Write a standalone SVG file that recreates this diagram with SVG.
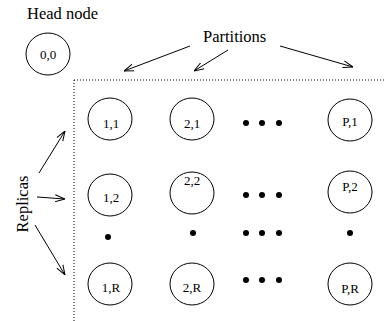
<svg xmlns="http://www.w3.org/2000/svg" width="385" height="321" viewBox="0 0 385 321">
<style>
.t{font-family:'Liberation Serif','DejaVu Serif',serif;fill:#000}
.lbl{font-size:16.5px}
.n{font-size:13px;text-anchor:middle}
.c{fill:none;stroke:#000;stroke-width:1}
.a{stroke:#000;stroke-width:1;fill:none;marker-end:url(#ah)}
.d{fill:#000}
</style>
<defs>
<marker id="ah" viewBox="0 0 10 10" refX="10" refY="5" markerWidth="10" markerHeight="10" markerUnits="userSpaceOnUse" orient="auto">
<polyline points="0,1.5 10,5 0,8.5" fill="none" stroke="#000" stroke-width="1"/>
</marker>
</defs>
<rect width="385" height="321" fill="#fff"/>
<g font-family="Liberation Serif, DejaVu Serif, serif">
<text class="t lbl" x="27" y="19">Head node</text>
<text class="t lbl" x="203" y="42">Partitions</text>
<text class="t lbl" transform="translate(28,204) rotate(-90)" text-anchor="middle">Replicas</text>
</g>
<g id="frame">
<path d="M74,80 H385 M74,80 V321" fill="none" stroke="#000" stroke-width="1" stroke-dasharray="1,2"/>
</g>
<g id="connectors">
<line class="a" x1="190" y1="46" x2="124" y2="71"/>
<line class="a" x1="228" y1="50" x2="194" y2="71"/>
<line class="a" x1="280" y1="46" x2="353" y2="67"/>
<line class="a" x1="39" y1="173" x2="65" y2="131"/>
<line class="a" x1="37" y1="197" x2="65" y2="199"/>
<line class="a" x1="35" y1="225" x2="65" y2="275"/>
</g>
<g font-family="Liberation Serif, DejaVu Serif, serif">
<g id="n00"><ellipse class="c" cx="48" cy="54" rx="22" ry="21"/><text class="t n" x="48" y="59">0,0</text></g>
<g id="n11"><ellipse class="c" cx="110" cy="119" rx="22" ry="21"/><text class="t n" x="111" y="128">1,1</text></g>
<g id="n21"><ellipse class="c" cx="192" cy="119" rx="22" ry="21"/><text class="t n" x="192" y="128">2,1</text></g>
<g id="nP1"><ellipse class="c" cx="350" cy="120" rx="22" ry="21"/><text class="t n" x="350" y="126">P,1</text></g>
<g id="n12"><ellipse class="c" cx="110" cy="195" rx="22" ry="21"/><text class="t n" x="111" y="202">1,2</text></g>
<g id="n22"><ellipse class="c" cx="192" cy="193" rx="22" ry="21"/><text class="t n" x="192" y="185">2,2</text></g>
<g id="nP2"><ellipse class="c" cx="350" cy="192" rx="22" ry="21"/><text class="t n" x="350" y="191">P,2</text></g>
<g id="n1R"><ellipse class="c" cx="110" cy="284" rx="22" ry="21"/><text class="t n" x="111" y="292">1,R</text></g>
<g id="n2R"><ellipse class="c" cx="192" cy="284" rx="22" ry="21"/><text class="t n" x="192" y="292">2,R</text></g>
<g id="nPR"><ellipse class="c" cx="350" cy="284" rx="22" ry="21"/><text class="t n" x="350" y="293">P,R</text></g>
</g>
<g id="dots">
<circle class="d" cx="246" cy="123" r="3"/><circle class="d" cx="262" cy="123" r="3"/><circle class="d" cx="279" cy="123" r="3"/>
<circle class="d" cx="246" cy="195" r="3"/><circle class="d" cx="262" cy="195" r="3"/><circle class="d" cx="279" cy="195" r="3"/>
<circle class="d" cx="246" cy="233" r="3"/><circle class="d" cx="262" cy="233" r="3"/><circle class="d" cx="279" cy="233" r="3"/>
<circle class="d" cx="246" cy="280" r="3"/><circle class="d" cx="262" cy="280" r="3"/><circle class="d" cx="279" cy="280" r="3"/>
<circle class="d" cx="108" cy="237" r="3"/>
<circle class="d" cx="193" cy="233" r="3"/>
<circle class="d" cx="350" cy="233" r="3"/>
</g>
</svg>
